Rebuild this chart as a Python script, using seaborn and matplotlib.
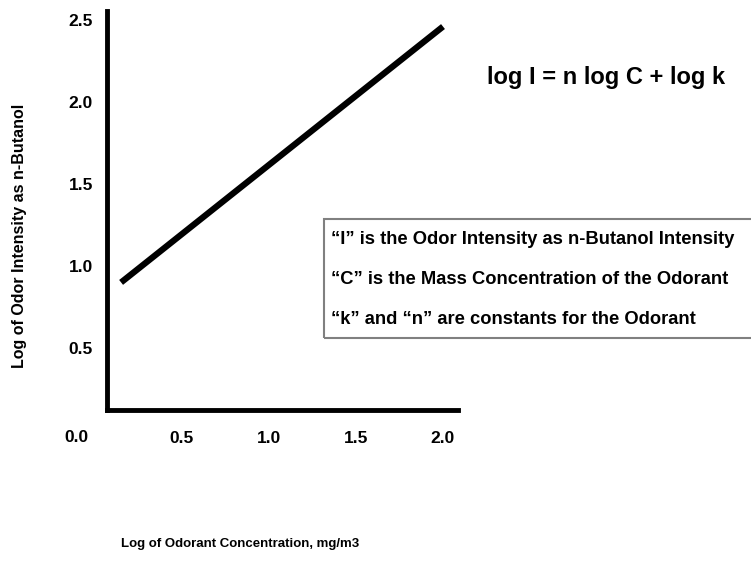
import pandas as pd
import matplotlib.pyplot as plt
import seaborn as sns
from matplotlib.patches import Rectangle

# Data
log_conc = [0.15, 2.0]          # log of odorant concentration (line ends)
log_intensity = [0.90, 2.46]    # log of odor intensity as n-butanol
x_ticks = [0.5, 1.0, 1.5, 2.0]
y_ticks = [0.5, 1.0, 1.5, 2.0, 2.5]
notes = [
    "\u201cI\u201d is the Odor Intensity as n-Butanol Intensity",
    "\u201cC\u201d is the Mass Concentration of the Odorant",
    "\u201ck\u201d and \u201cn\u201d are constants for the Odorant",
]
equation = "log I = n log C + log k"

df = pd.DataFrame({"conc": log_conc, "intensity": log_intensity})

sns.set_style("white")
plt.rcParams['font.family'] = ['Liberation Sans', 'DejaVu Sans']
plt.rcParams['font.weight'] = 'bold'
for k in ['text.color', 'axes.labelcolor', 'xtick.color', 'ytick.color']:
    plt.rcParams[k] = 'black'

fig = plt.figure(figsize=(7.51, 5.64), dpi=100)
ax = fig.add_axes([0, 0, 1, 1])
ax.set_facecolor("none")

sns.lineplot(data=df, x="conc", y="intensity", color="black", linewidth=4.5,
             solid_capstyle="butt", ax=ax)

# pixel mapping: x = 95 + 174*v, y = 430 - 164*v
ax.set_xlim(-95 / 174, (751 - 95) / 174)
ax.set_ylim((430 - 564) / 164, 430 / 164)

for s in ["top", "right"]:
    ax.spines[s].set_visible(False)
ax.spines["left"].set_position(("data", 0.069))
ax.spines["left"].set_bounds(0.122, 2.555)
ax.spines["bottom"].set_position(("data", 0.122))
ax.spines["bottom"].set_bounds(0.069, 2.086)
for s in ["left", "bottom"]:
    ax.spines[s].set_linewidth(3.5)
    ax.spines[s].set_color("black")
    ax.spines[s].set_capstyle("projecting")

ax.set_xticks(x_ticks)
ax.set_yticks(y_ticks)
ax.set_xticklabels([f"{v:.1f}" for v in x_ticks], fontsize=12.5, fontweight="bold")
ax.set_yticklabels([f"{v:.1f}" for v in y_ticks], fontsize=12.5, fontweight="bold")
ax.tick_params(axis="x", length=0, pad=15)
ax.tick_params(axis="y", length=0, pad=10)
ax.text(-0.105, -0.045, "0.0", fontsize=12.5, fontweight="bold", ha="center", va="center")

ax.set_xlabel("Log of Odorant Concentration, mg/m3", fontsize=9.5, fontweight="bold")
ax.set_ylabel("Log of Odor Intensity as n-Butanol", fontsize=11.5, fontweight="bold")
ax.xaxis.set_label_coords(240 / 751, 1 - 538 / 564)
ax.yaxis.set_label_coords(27 / 751, 1 - 236 / 564)

fig.text(606 / 751, 1 - 77 / 564, equation, fontsize=17, fontweight="bold",
         ha="center", va="center")

box = Rectangle((324 / 751, 1 - 338 / 564), 440 / 751, 119 / 564,
                transform=fig.transFigure, fill=False, edgecolor="#808080", linewidth=1.5)
fig.patches.append(box)
for i, t in enumerate(notes):
    fig.text(331 / 751, 1 - (239 + 40 * i) / 564, t, fontsize=13.2, fontweight="bold",
             ha="left", va="center")

plt.savefig("out.png", dpi=100)
